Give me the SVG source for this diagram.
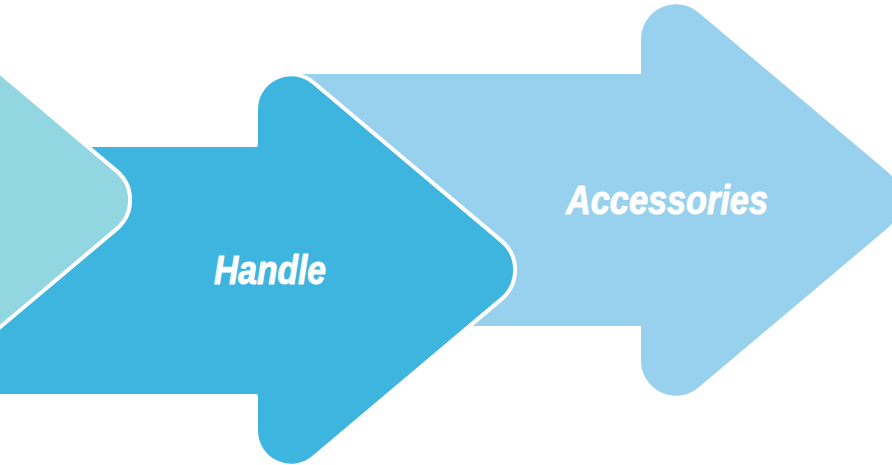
<svg xmlns="http://www.w3.org/2000/svg" width="892" height="465" viewBox="0 0 892 465">
<style>
.arrow{stroke:#ffffff;stroke-width:4;stroke-linejoin:round}
.a1{fill:#92d6e2}
.a2{fill:#3eb5de}
.a3{fill:#98d1ed;stroke:none}
.lbl{font-family:"Liberation Sans",Arial,sans-serif;font-weight:bold;font-style:italic;font-size:41px;fill:#ffffff;stroke:#ffffff;stroke-width:1;stroke-linejoin:round}
</style>
<rect width="892" height="465" fill="#ffffff"/>
<g id="connectors"></g>
<g id="node-accessories">
<path class="arrow a3" d="M285,74 H641 V39.2 A35 35 0 0 1 698.5 12.5 L886.5 170.9 A38 38 0 0 1 886.5 229.1 L698.5 387.5 A35 35 0 0 1 641 360.8 V326 H285 Z"/>
<text class="lbl" x="566" y="214" textLength="202" lengthAdjust="spacingAndGlyphs">Accessories</text>
</g>
<g id="node-handle">
<path class="arrow a2" d="M-100,145 H256 V109.2 A35 35 0 0 1 313.5 82.5 L501.5 240.9 A38 38 0 0 1 501.5 299.1 L313.5 457.5 A35 35 0 0 1 256 430.8 V396 H-100 Z"/>
<text class="lbl" x="214" y="284" textLength="112" lengthAdjust="spacingAndGlyphs">Handle</text>
</g>
<g id="node-first">
<path class="arrow a1" d="M-500,75 H-129 V39.2 A35 35 0 0 1 -71.5 12.5 L116.5 170.9 A38 38 0 0 1 116.5 229.1 L-71.5 387.5 A35 35 0 0 1 -129 360.8 V326 H-500 Z"/>
</g>
</svg>
